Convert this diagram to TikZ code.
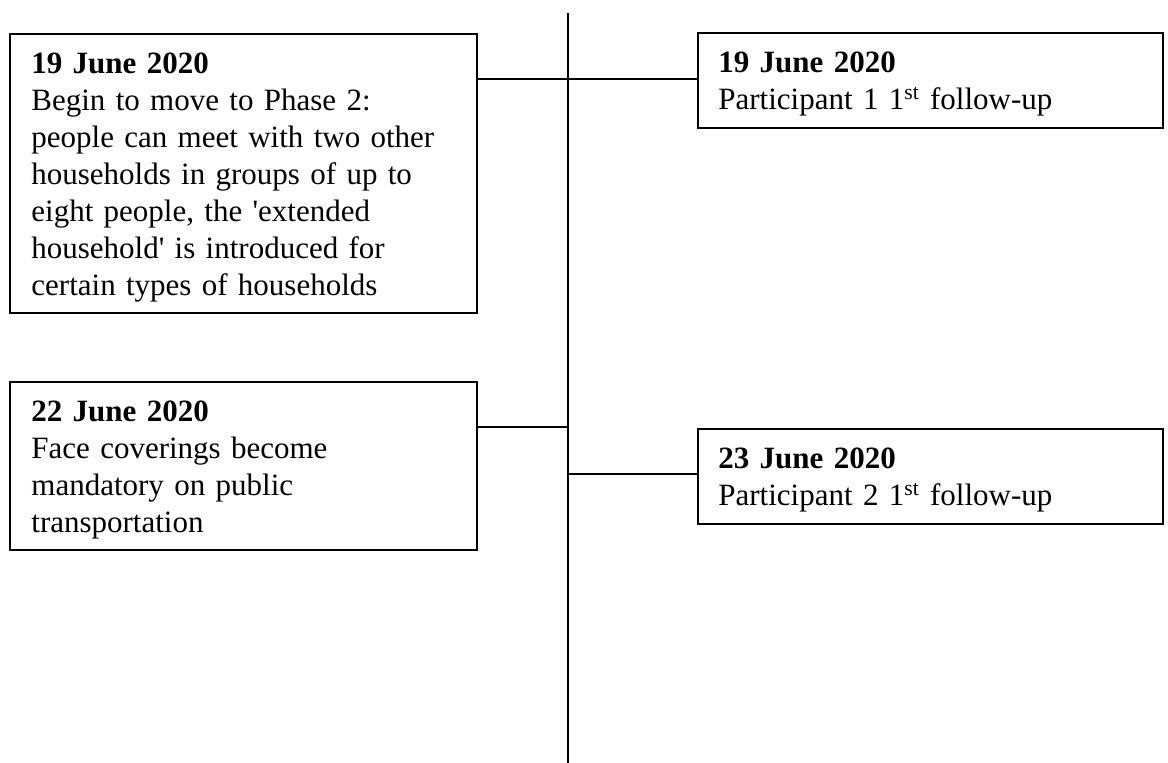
\documentclass[tikz,border=0pt]{standalone}
\usepackage{fontspec}
\setmainfont{Liberation Serif}
\usetikzlibrary{calc}
\begin{document}
% one unit = one pixel, y grows downwards
\begin{tikzpicture}[x=0.5pt,y=-0.5pt,
  evbox/.style={draw, line width=0.9pt, rectangle, inner sep=0pt, anchor=north west},
  evtext/.style={anchor=north west, inner sep=0pt, align=left, text width=225pt,
    font=\fontsize{15.5}{18.5}\selectfont},
  link/.style={line width=1pt},
  spine/.style={line width=1.1pt}]
\useasboundingbox (0,0) rectangle (1168,763);

% timeline spine
\coordinate (top) at (568,13);
\coordinate (bot) at (568,763);
\draw[spine] (top) -- (bot);

% event boxes
\node[evbox, minimum width=233.5pt, minimum height=139.5pt] (a) at (9,33) {};
\node[evbox, minimum width=232.5pt, minimum height=47.5pt]  (b) at (697,32) {};
\node[evbox, minimum width=233.5pt, minimum height=84pt]    (c) at (9,381) {};
\node[evbox, minimum width=232.5pt, minimum height=47.5pt]  (d) at (697,428) {};

% box texts
\newcommand\leadstrut{\rule{0pt}{12pt}}
\newcommand\sq{\textquotesingle}
\node[evtext] (ta) at ($(a.north west)+(22,16.5)$)
  {\leadstrut\textbf{19 June 2020}\\
   Begin to move to Phase 2:\\
   people can meet with two other\\
   households in groups of up to\\
   eight people, the \sq extended\\
   household\sq{} is introduced for\\
   certain types of households};
\node[evtext] (tb) at ($(b.north west)+(21,16.5)$)
  {\leadstrut\textbf{19 June 2020}\\
   Participant 1 1\textsuperscript{st} follow-up};
\node[evtext] (tc) at ($(c.north west)+(22,16.5)$)
  {\leadstrut\textbf{22 June 2020}\\
   Face coverings become\\
   mandatory on public\\
   transportation};
\node[evtext] (td) at ($(d.north west)+(21,16.5)$)
  {\leadstrut\textbf{23 June 2020}\\
   Participant 2 1\textsuperscript{st} follow-up};

% connectors from the boxes to the spine
\coordinate (ca) at ($(a.north east)+(0,46)$);
\draw[link] (ca) -- (ca -| b.west);
\coordinate (cc) at ($(c.north east)+(0,46)$);
\draw[link] (cc) -- (cc -| top);
\coordinate (cd) at ($(d.north west)+(0,46)$);
\draw[link] (cd -| top) -- (cd);
\end{tikzpicture}
\end{document}
